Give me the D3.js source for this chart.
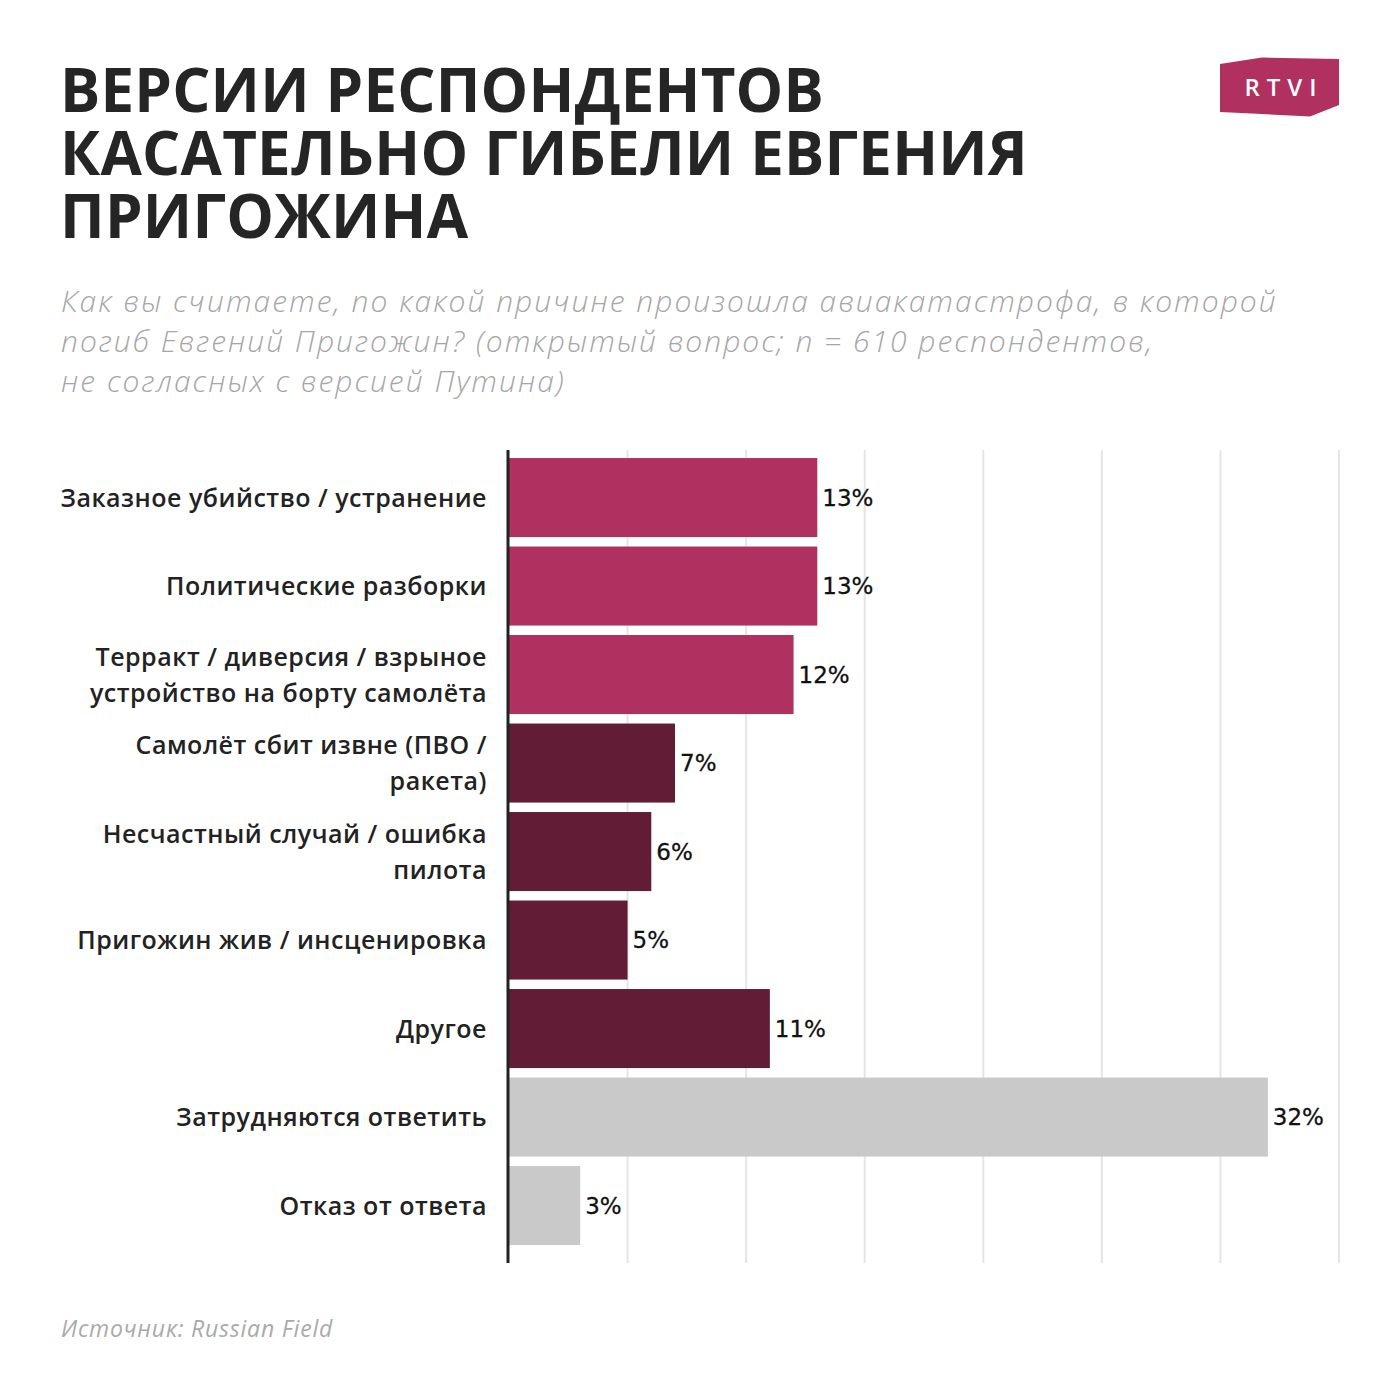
<!DOCTYPE html>
<html><head><meta charset="utf-8">
<script src="https://cdn.jsdelivr.net/npm/d3@7"></script>
<style>html,body{margin:0;padding:0;background:#fff}svg{display:block}</style>
</head><body>
<script>
const titleLines = ["ВЕРСИИ РЕСПОНДЕНТОВ", "КАСАТЕЛЬНО ГИБЕЛИ ЕВГЕНИЯ", "ПРИГОЖИНА"];
const subtitleLines = [
  "Как вы считаете, по какой причине произошла авиакатастрофа, в которой",
  "погиб Евгений Пригожин? (открытый вопрос; n = 610 респондентов,",
  "не согласных с версией Путина)"
];
const sourceText = "Источник: Russian Field";
const categories = [
  "Заказное убийство / устранение",
  "Политические разборки",
  "Терракт / диверсия / взрыное\nустройство на борту самолёта",
  "Самолёт сбит извне (ПВО /\nракета)",
  "Несчастный случай / ошибка\nпилота",
  "Пригожин жив / инсценировка",
  "Другое",
  "Затрудняются ответить",
  "Отказ от ответа"
];
const values = [13, 13, 12, 7, 6, 5, 11, 32, 3];
const groups = ["murder", "murder", "murder", "other", "other", "other", "other", "none", "none"];
const groupKeys = ["murder", "other", "none"];
const xTicks = [0, 5, 10, 15, 20, 25, 30, 35];

const W = 1400, H = 1400;
const svg = d3.select("body").append("svg").attr("width", W).attr("height", H);

// Title
svg.append("g").selectAll("text").data(titleLines).join("text")
  .attr("x", 60).attr("y", (d, i) => 112 + i * 63)
  .attr("font-family", "'Open Sans', sans-serif").attr("font-weight", 700)
  .attr("font-size", 60).attr("letter-spacing", 0.2).attr("fill", "#252525")
  .text(d => d);

// Subtitle
svg.append("g").selectAll("text").data(subtitleLines).join("text")
  .attr("x", 61).attr("y", (d, i) => 312 + i * 40)
  .attr("font-family", "'Open Sans', sans-serif").attr("font-style", "italic").attr("font-weight", 300)
  .attr("font-size", 30).attr("letter-spacing", 2).attr("fill", "#a6a6a6")
  .text(d => d);

// Logo
const logo = svg.append("g");
logo.append("path")
  .attr("d", "M1220,64 L1262,57.5 L1339,59 L1339,105 L1310,116.5 L1220,112 Z")
  .attr("fill", "#b0305f");
logo.append("text").attr("x", 1284).attr("y", 96).attr("text-anchor", "middle")
  .attr("font-family", "'Open Sans', sans-serif").attr("font-weight", 600)
  .attr("font-size", 24).attr("letter-spacing", 7).attr("fill", "#fff").text("RTVI");

// Scales
const x = d3.scaleLinear().domain([0, 35]).range([509, 1339]);
const y = d3.scaleBand().domain(categories).range([453.3, 1249.8]).paddingInner(0.107).paddingOuter(0.0535);
const color = d3.scaleOrdinal().domain(groupKeys).range(["#b0305f", "#621c36", "#c9c9c9"]);

// Gridlines
svg.append("g").selectAll("line").data(xTicks.filter(t => t > 0)).join("line")
  .attr("x1", d => x(d)).attr("x2", d => x(d))
  .attr("y1", 450).attr("y2", 1263)
  .attr("stroke", "#e5e5e5").attr("stroke-width", 2);

// Bars
svg.append("g").selectAll("rect").data(values).join("rect")
  .attr("x", x(0)).attr("y", (d, i) => y(categories[i]))
  .attr("width", d => x(d) - x(0)).attr("height", y.bandwidth())
  .attr("fill", (d, i) => color(groups[i]));

// Axis line
svg.append("line").attr("x1", 508).attr("x2", 508).attr("y1", 450).attr("y2", 1263)
  .attr("stroke", "#222").attr("stroke-width", 3);

// Value labels
svg.append("g").selectAll("text").data(values).join("text")
  .attr("x", d => x(d) + 5)
  .attr("y", (d, i) => y(categories[i]) + y.bandwidth() / 2)
  .attr("dy", "0.36em")
  .attr("font-family", "'DejaVu Sans', sans-serif").attr("font-size", 23).attr("fill", "#111")
  .attr("stroke", "#111").attr("stroke-width", 0.3)
  .text(d => d + "%");

// Category labels
const lab = svg.append("g").selectAll("text").data(categories).join("text")
  .attr("text-anchor", "end")
  .attr("font-family", "'Open Sans', sans-serif").attr("font-weight", 600)
  .attr("font-size", 25).attr("letter-spacing", 0.5).attr("fill", "#222");
lab.each(function(d) {
  const lines = d.split("\n");
  const cy = y(d) + y.bandwidth() / 2;
  const lh = 36;
  d3.select(this).selectAll("tspan").data(lines).join("tspan")
    .attr("x", 487)
    .attr("y", (l, i) => cy + (i - (lines.length - 1) / 2) * lh)
    .attr("dy", "0.36em")
    .text(l => l);
});

// Source
svg.append("text").attr("x", 61).attr("y", 1337)
  .attr("font-family", "'Open Sans', sans-serif").attr("font-style", "italic")
  .attr("font-size", 23).attr("letter-spacing", 0.8).attr("fill", "#aaaaaa").text(sourceText);
</script>
</body></html>
